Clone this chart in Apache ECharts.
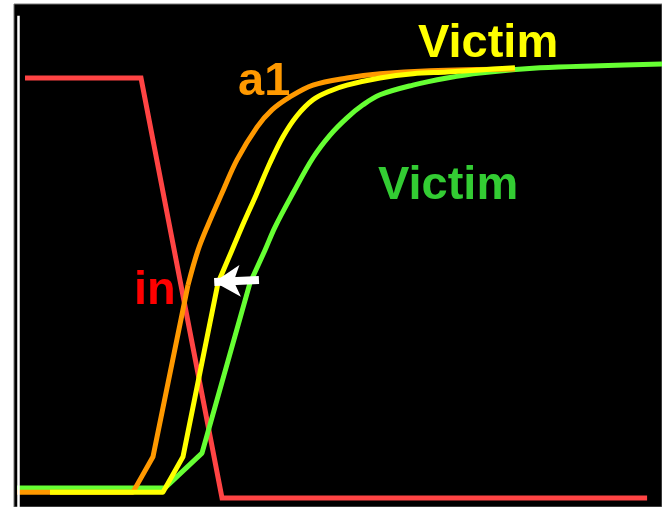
<!DOCTYPE html>
<html>
<head>
<meta charset="utf-8">
<style>
  html, body { margin: 0; padding: 0; background: #fff; }
  #chart { width: 662px; height: 507px; }
</style>
<script src="https://cdn.jsdelivr.net/npm/echarts@6/dist/echarts.min.js"></script>
</head>
<body>
<div id="chart"></div>
<script>
// time axis 0..100, voltage normalised (in: low = 0, high = 1)
const inWave = [[1.7, 1.0], [19.6, 1.0], [32.1, 0], [97.7, 0]];

// each output: straight rise (flat, ramp, steep edge) then a smooth settle
const a1Rise = [[0.46, 0.014], [18.36, 0.014], [21.45, 0.098], [26.85, 0.507]];
const a1Settle = [
  [26.85, 0.507], [28.40, 0.590], [29.94, 0.650], [32.10, 0.726], [34.41, 0.805],
  [37.50, 0.883], [39.81, 0.924], [42.59, 0.955], [46.14, 0.983], [51.39, 1.000],
  [56.48, 1.010], [64.20, 1.017], [77.31, 1.021]
];

const fastRise = [[5.56, 0.014], [22.99, 0.014], [26.08, 0.098], [31.48, 0.512]];
const fastSettle = [
  [31.48, 0.512], [33.64, 0.590], [35.49, 0.657], [37.35, 0.721], [39.51, 0.798],
  [41.51, 0.860], [43.67, 0.910], [46.14, 0.948], [48.77, 0.969], [51.39, 0.983],
  [56.48, 1.000], [61.57, 1.010], [66.82, 1.014], [71.91, 1.019], [77.31, 1.024]
];

const slowRise = [[0.46, 0.024], [23.30, 0.024], [29.01, 0.107], [36.42, 0.512]];
const slowSettle = [
  [36.42, 0.512], [38.73, 0.590], [40.28, 0.645], [43.06, 0.726], [46.14, 0.810],
  [48.77, 0.864], [51.39, 0.905], [53.86, 0.936], [56.48, 0.960], [61.57, 0.983],
  [66.82, 1.000], [71.91, 1.012], [81.17, 1.024], [90.43, 1.029], [100, 1.033]
];

// arrow pointing at the yellow victim (data coords)
const arrowFrom = [37.8, 0.519];
const arrowTo = [30.9, 0.514];
// white vertical axis line
const axisX = 0.6;
const axisTop = 1.148;

const chart = echarts.init(document.getElementById('chart'));

const font = 'bold 47px "Liberation Sans", Arial, sans-serif';

function wave(name, data, color, smooth, extra) {
  return Object.assign({
    name: name,
    type: 'line',
    data: data,
    symbol: 'none',
    smooth: smooth,
    lineStyle: { color: color, width: 5, cap: 'butt', join: 'round' },
    silent: true
  }, extra || {});
}

chart.setOption({
  animation: false,
  backgroundColor: '#fff',
  grid: {
    left: 14, right: -1, top: 4, bottom: -1,
    show: true, backgroundColor: '#000', borderColor: '#777', borderWidth: 1
  },
  xAxis: { type: 'value', min: 0, max: 100, show: false },
  yAxis: { type: 'value', min: -0.0214, max: 1.176, show: false },
  series: [
    wave('in', inWave, '#ff4444', false, {
      lineStyle: { color: '#ff4444', width: 5, join: 'miter' },
      markLine: {
        silent: true,
        symbol: 'none',
        label: { show: false },
        lineStyle: { color: '#fff', width: 2.5, type: 'solid' },
        data: [[{ coord: [axisX, axisTop] }, { coord: [axisX, -0.0214] }]]
      }
    }),
    wave('Victim (slow)', slowRise, '#66ff33', false),
    wave('Victim (slow)', slowSettle, '#66ff33', 0.35),
    wave('a1', a1Rise, '#ff9900', false),
    wave('a1', a1Settle, '#ff9900', 0.35),
    wave('Victim', fastRise, '#ffff00', false),
    wave('Victim', fastSettle, '#ffff00', 0.35, {
      markLine: {
        silent: true,
        symbol: ['none', 'arrow'],
        symbolSize: [24, 26],
        label: { show: false },
        lineStyle: { color: '#fff', width: 8, type: 'solid' },
        data: [[{ coord: arrowFrom }, { coord: arrowTo }]]
      }
    })
  ],
  graphic: [
    { type: 'text', x: 418, y: 44, style: { text: 'Victim', fill: '#ffff00', font: font, verticalAlign: 'middle' } },
    { type: 'text', x: 378, y: 186, style: { text: 'Victim', fill: '#33cc33', font: font, verticalAlign: 'middle' } },
    { type: 'text', x: 238, y: 82, style: { text: 'a1', fill: '#ff9900', font: font, verticalAlign: 'middle' } },
    { type: 'text', x: 134, y: 291, style: { text: 'in', fill: '#ff0000', font: font, verticalAlign: 'middle' } }
  ]
});

window.addEventListener('resize', () => chart.resize());
</script>
</body>
</html>
